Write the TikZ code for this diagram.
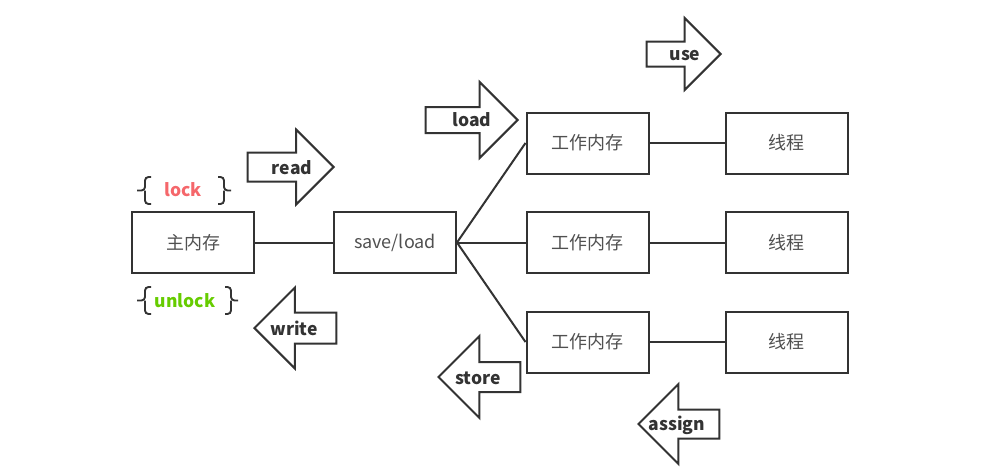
\documentclass[tikz,border=0pt]{standalone}
\usepackage{fontspec}
\setmainfont{Noto Sans CJK SC}
\usetikzlibrary{shapes.arrows}
\definecolor{linegray}{HTML}{333333}
\definecolor{textgray}{HTML}{505050}
\definecolor{lockred}{HTML}{F5676B}
\definecolor{unlockgreen}{HTML}{66CC00}

\begin{document}
\begin{tikzpicture}[x=1pt, y=-1pt,
    box/.style={draw=linegray, line width=2pt, minimum width=122pt, minimum height=61pt, font=\fontsize{18}{21}\selectfont, text=textgray},
    link/.style={draw=linegray, line width=2pt},
    bigarrow/.style={single arrow, draw=linegray, line width=2pt, fill=white, inner xsep=0pt, inner ysep=13.5pt, single arrow head extend=23pt, anchor=tip},
    leftarrow/.style={bigarrow, shape border rotate=180},
    arrowtext/.style={font=\fontsize{17.5}{20}\selectfont\bfseries, text=linegray},
    brace/.style={draw=linegray, line width=1.9pt, rounded corners=3.5pt},
  ]
  \useasboundingbox (0,0) rectangle (992,474);

  % Main memory and save/load
  \node[box] (main) at (193,242.5) {主内存};
  \node[box] (saveload) at (395,242.5) {save/load};

  % Working memory and threads
  \node[box] (work1) at (587.5,143) {工作内存};
  \node[box] (work2) at (587.5,242.5) {工作内存};
  \node[box] (work3) at (587.5,342) {工作内存};
  \node[box] (thread1) at (786.5,143) {线程};
  \node[box] (thread2) at (786.5,242.5) {线程};
  \node[box] (thread3) at (786.5,342) {线程};

  % Connections
  \draw[link] (main.east) -- (saveload.west);
  \draw[link] (saveload.east) -- (work1.west);
  \draw[link] (saveload.east) -- (work2.west);
  \draw[link] (saveload.east) -- (work3.west);
  \draw[link] (work1.east) -- (thread1.west);
  \draw[link] (work2.east) -- (thread2.west);
  \draw[link] (work3.east) -- (thread3.west);

  % Block arrows
  \node[bigarrow, minimum height=86pt] (readarrow) at (335,167) {};
  \node[leftarrow, minimum height=82pt, inner ysep=14.5pt, single arrow head extend=25pt] (writearrow) at (253,328) {};
  \node[bigarrow, minimum height=92pt, inner ysep=12pt, single arrow head extend=25pt] (loadarrow) at (519,120) {};
  \node[bigarrow, minimum height=74pt, inner ysep=11.5pt, single arrow head extend=23.5pt] (usearrow) at (722,54) {};
  \node[leftarrow, minimum height=82pt, inner ysep=14pt, single arrow head extend=26pt] (storearrow) at (437,377) {};
  \node[leftarrow, minimum height=81pt, inner ysep=13.5pt, single arrow head extend=25.5pt] (assignarrow) at (637,424) {};

  % Arrow labels
  \node[arrowtext] (read) at (292,168) {read};
  \node[arrowtext] (write) at (294,328) {write};
  \node[arrowtext] (load) at (472,120) {load};
  \node[arrowtext] (use) at (685,56) {use};
  \node[arrowtext] (store) at (478,378) {store};
  \node[arrowtext] (assign) at (677,425) {assign};

  % Lock / unlock
  \node[arrowtext, text=lockred] (lock) at (183,190) {lock};
  \node[arrowtext, text=unlockgreen] (unlock) at (185,301) {unlock};
  \draw[brace] (151,177) -- (145,177) -- (145,190.5) -- (137,190.5);
  \draw[brace] (151,204) -- (145,204) -- (145,190.5);
  \draw[brace] (218,177) -- (224,177) -- (224,190.5) -- (231,190.5);
  \draw[brace] (218,204) -- (224,204) -- (224,190.5);
  \draw[brace] (151,287) -- (145,287) -- (145,300.5) -- (137,300.5);
  \draw[brace] (151,314) -- (145,314) -- (145,300.5);
  \draw[brace] (225,287) -- (231,287) -- (231,300.5) -- (238,300.5);
  \draw[brace] (225,314) -- (231,314) -- (231,300.5);
\end{tikzpicture}
\end{document}
